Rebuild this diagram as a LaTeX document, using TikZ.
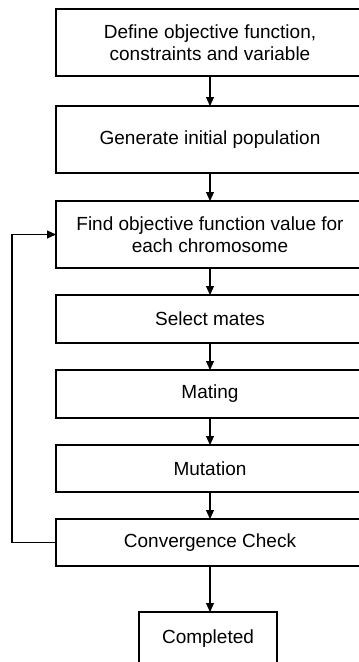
\documentclass[tikz,border=0pt]{standalone}
\usepackage{fontspec}
\setmainfont{Liberation Sans}
\usetikzlibrary{arrows.meta}
\begin{document}
\begin{tikzpicture}[x=1pt,y=-1pt,
  box/.style={draw,line width=1.1pt,inner sep=0pt,outer sep=0pt,align=center,
    font=\fontsize{19}{22.5}\selectfont,minimum width=308pt},
  arr/.style={line width=1.1pt,-{Triangle[length=9pt,width=8pt]}}]
\useasboundingbox (0,0) rectangle (359,662);
\clip (0,0) rectangle (359,662);
\node[box,minimum height=67pt] (b1) at (210,42.5) {Define objective function,\\constraints and variable};
\node[box,minimum height=67pt] (b2) at (210,139.5) {Generate initial population};
\node[box,minimum height=67pt] (b3) at (210,234.5) {Find objective function value for\\each chromosome};
\node[box,minimum height=48pt] (b4) at (210,319) {Select mates};
\node[box,minimum height=48pt] (b5) at (210,394) {Mating};
\node[box,minimum height=47pt] (b6) at (210,468.5) {Mutation};
\node[box,minimum height=47pt] (b7) at (210,542.5) {Convergence Check};
\node[box,minimum width=138pt,minimum height=54pt] (b8) at (208,639) {Completed};
\draw[arr] (b1.south) -- (b2.north);
\draw[arr] (b2.south) -- (b3.north);
\draw[arr] (b3.south) -- (b4.north);
\draw[arr] (b4.south) -- (b5.north);
\draw[arr] (b5.south) -- (b6.north);
\draw[arr] (b6.south) -- (b7.north);
\draw[arr] (b7.south) -- (b7.south |- b8.north);
\coordinate (lb) at (12,542.5);
\coordinate (lt) at (12,234.5);
\draw[arr] (b7.west) -- (lb) -- (lt) -- (b3.west);
\end{tikzpicture}
\end{document}
